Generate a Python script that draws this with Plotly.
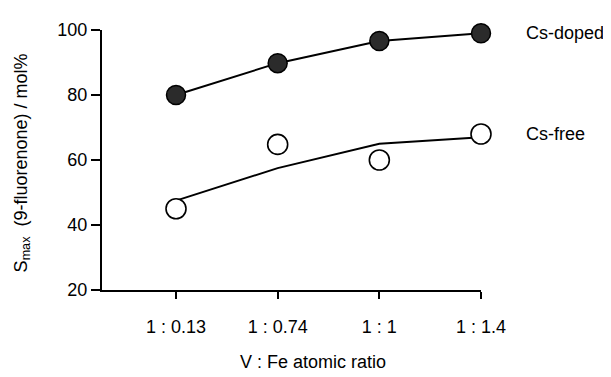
import plotly.graph_objects as go

# Data
ratios = ["1 : 0.13", "1 : 0.74", "1 : 1", "1 : 1.4"]
x_pos = [0, 1, 2, 3]
cs_doped = [80, 89.8, 96.6, 99]
cs_free = [45, 64.8, 60, 68]
cs_free_fit = [47.5, 57.5, 65, 67]
y_ticks = [20, 40, 60, 80, 100]

FONT = "Liberation Sans, Arial, sans-serif"

fig = go.Figure()

# Cs-free fit line
fig.add_trace(go.Scatter(
    x=x_pos, y=cs_free_fit, mode="lines",
    line=dict(color="black", width=2), cliponaxis=False, showlegend=False))
# Cs-free points
fig.add_trace(go.Scatter(
    x=x_pos, y=cs_free, mode="markers",
    marker=dict(symbol="circle", size=20, color="white",
                line=dict(color="black", width=1.6)),
    cliponaxis=False, showlegend=False))
# Cs-doped line + points
fig.add_trace(go.Scatter(
    x=x_pos, y=cs_doped, mode="lines+markers",
    line=dict(color="black", width=2),
    marker=dict(symbol="circle", size=19, color="#2b2b2b",
                line=dict(color="black", width=1.5)),
    cliponaxis=False, showlegend=False))

# page body has an 8px margin; compensate so the plot lands where the reference has it
OFF = 8
W, H = 611 - OFF, 377 - OFF
L, T = 102 - OFF, 21 - OFF
pw, ph = 379, 269
R = W - L - pw
B = H - T - ph

def px_to_paper(px, py):
    return (px - OFF - L) / pw, (T + ph - (py - OFF)) / ph

annotations = []
# series labels
annotations.append(dict(x=3, y=cs_doped[-1], xref="x", yref="y", text="Cs-doped",
                        showarrow=False, xanchor="left", yanchor="middle", xshift=43,
                        font=dict(family=FONT, size=18, color="black")))
annotations.append(dict(x=3, y=cs_free[-1], xref="x", yref="y", text="Cs-free",
                        showarrow=False, xanchor="left", yanchor="middle", xshift=43,
                        font=dict(family=FONT, size=18, color="black")))
# axis titles
ax, ay = px_to_paper(313, 365)
annotations.append(dict(x=ax, y=ay, xref="paper", yref="paper", text="V : Fe atomic ratio",
                        showarrow=False, xanchor="center", yanchor="middle",
                        font=dict(family=FONT, size=18, color="black")))
tx, ty = px_to_paper(22, 159)
annotations.append(dict(x=tx, y=ty, xref="paper", yref="paper",
                        text="S<sub>max</sub>  (9-fluorenone) / mol%",
                        textangle=-90, showarrow=False, xanchor="center", yanchor="middle",
                        font=dict(family=FONT, size=18, color="black")))

fig.update_layout(
    width=W, height=H,
    margin=dict(l=L, r=R, t=T, b=B),
    paper_bgcolor="white", plot_bgcolor="white",
    font=dict(family=FONT, size=18, color="black"),
    annotations=annotations,
    xaxis=dict(range=[-0.728, 3], tickmode="array", tickvals=x_pos, ticktext=ratios,
               showgrid=False, zeroline=False, showline=True, linecolor="black", linewidth=2,
               ticks="outside", ticklen=7, tickwidth=1.5, tickcolor="black",
               ticklabelstandoff=12,
               tickfont=dict(family=FONT, size=18, color="black")),
    yaxis=dict(range=[20, 100], tickmode="array", tickvals=y_ticks,
               showgrid=False, zeroline=False, showline=True, linecolor="black", linewidth=2,
               ticks="outside", ticklen=9, tickwidth=1.5, tickcolor="black",
               tickfont=dict(family=FONT, size=18, color="black")),
)

fig.write_html("out.html")
